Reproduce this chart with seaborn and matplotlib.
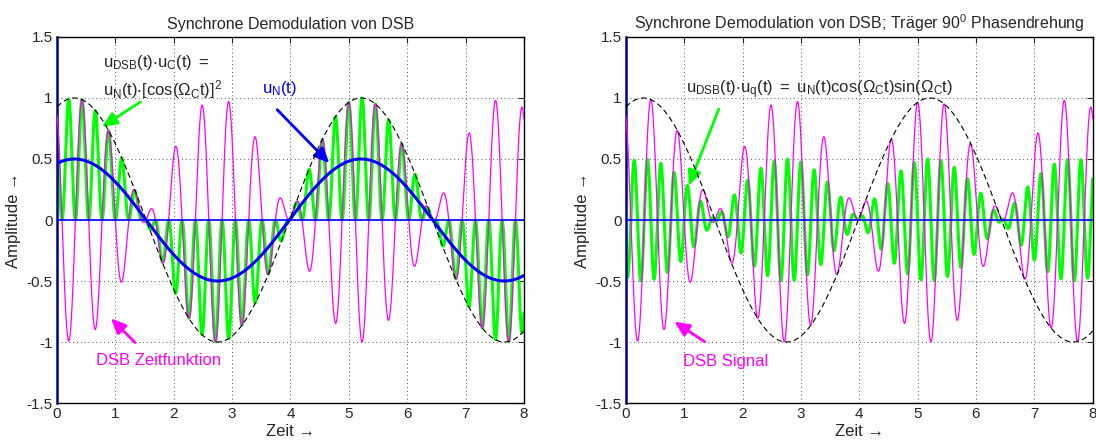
import numpy as np
import pandas as pd
import matplotlib
matplotlib.use("Agg")
import matplotlib.pyplot as plt
import seaborn as sns

# values
t_span = [0, 8]
msg_period = 4.91        # period of u_N(t) in s
msg_peak = 0.30          # first maximum of u_N(t)
carrier_period = 0.457   # period of the carrier in s
carrier_peak = -0.028    # a maximum of the carrier
lowpass_gain = 0.5       # amplitude of the demodulated u_N(t)
x_ticks = [0, 1, 2, 3, 4, 5, 6, 7, 8]
y_ticks = [-1.5, -1, -0.5, 0, 0.5, 1, 1.5]

sns.set_style("white")
plt.rcParams['font.family'] = ['Liberation Sans', 'DejaVu Sans']
plt.rcParams['mathtext.fontset'] = 'custom'
plt.rcParams['mathtext.rm'] = 'Liberation Sans'
plt.rcParams['mathtext.it'] = 'Liberation Sans'
plt.rcParams['xtick.direction'] = 'in'
plt.rcParams['ytick.direction'] = 'in'

t = np.linspace(t_span[0], t_span[1], 4001)
u_n = np.cos(2 * np.pi / msg_period * (t - msg_peak))
u_c = np.cos(2 * np.pi / carrier_period * (t - carrier_peak))
u_q = -np.sin(2 * np.pi / carrier_period * (t - carrier_peak))
dsb = u_n * u_c

df = pd.DataFrame({"t": t, "u_n": u_n, "dsb": dsb,
                   "demod_c": dsb * u_c, "demod_q": dsb * u_q,
                   "lowpass": lowpass_gain * u_n, "zero": 0 * t})

MAG = '#ff00ff'
GRN = '#00ff00'
BLU = '#0000ff'
ARW = '-|>,head_length=0.9,head_width=0.4'

fig = plt.figure(figsize=(10.96, 4.4), dpi=100)
ax1 = fig.add_axes([0.052, 0.084, 0.426, 0.832])
ax2 = fig.add_axes([0.571, 0.084, 0.426, 0.832])


def base(ax, title):
    ax.set_xlim(t_span)
    ax.set_ylim(-1.5, 1.5)
    ax.set_xticks(x_ticks)
    ax.set_yticks(y_ticks)
    ax.set_xticklabels([str(v) for v in x_ticks])
    ax.set_yticklabels(['-1.5', '-1', '-0.5', '0', '0.5', '1', '1.5'])
    ax.tick_params(labelsize=11, length=4, top=True, right=True, pad=3)
    ax.grid(True, linestyle=(0, (1, 3)), color='#555555', linewidth=0.7)
    for s in ax.spines.values():
        s.set_color('black')
        s.set_linewidth(1.0)
    ax.spines['left'].set_color('#00008b')
    ax.spines['left'].set_linewidth(1.8)
    ax.set_title(title, fontsize=11.5, pad=6)
    ax.set_xlabel('Zeit →', fontsize=12, labelpad=2)
    ax.set_ylabel('Amplitude →', fontsize=12, labelpad=4)


# left: synchronous demodulation
sns.lineplot(data=df, x="t", y="demod_c", ax=ax1, color=GRN, lw=2.2, estimator=None, zorder=2)
sns.lineplot(data=df, x="t", y="dsb", ax=ax1, color=MAG, lw=0.9, estimator=None, zorder=3)
sns.lineplot(data=df, x="t", y="u_n", ax=ax1, color='black', lw=0.8, linestyle=(0, (5, 3)), estimator=None, zorder=4)
sns.lineplot(data=df, x="t", y="lowpass", ax=ax1, color=BLU, lw=2.2, estimator=None, zorder=5)
sns.lineplot(data=df, x="t", y="zero", ax=ax1, color=BLU, lw=1.2, estimator=None, zorder=5)
base(ax1, 'Synchrone Demodulation von DSB')

ax1.text(0.78, 1.29, r'$\mathregular{u_{DSB}(t){\cdot}u_C(t)\ =}$', fontsize=12, va='center', ha='left')
ax1.text(0.78, 1.07, r'$\mathregular{u_N(t){\cdot}[cos(Ω_Ct)]^2}$', fontsize=12, va='center', ha='left')
ax1.annotate('', xy=(0.73, 0.75), xytext=(1.47, 0.98),
             arrowprops=dict(arrowstyle=ARW, color=GRN, lw=2))
ax1.text(3.52, 1.08, r'$\mathregular{u_N(t)}$', fontsize=12, color=BLU, va='center', ha='left')
ax1.annotate('', xy=(4.7, 0.45), xytext=(3.74, 0.92),
             arrowprops=dict(arrowstyle=ARW, color=BLU, lw=2))
ax1.text(1.74, -1.155, 'DSB Zeitfunktion', fontsize=12, color=MAG, va='center', ha='center')
ax1.annotate('', xy=(0.89, -0.79), xytext=(1.37, -1.02),
             arrowprops=dict(arrowstyle=ARW, color=MAG, lw=2))

# right: carrier shifted by 90 degrees
sns.lineplot(data=df, x="t", y="demod_q", ax=ax2, color=GRN, lw=2.2, estimator=None, zorder=2)
sns.lineplot(data=df, x="t", y="dsb", ax=ax2, color=MAG, lw=0.9, estimator=None, zorder=3)
sns.lineplot(data=df, x="t", y="u_n", ax=ax2, color='black', lw=0.8, linestyle=(0, (5, 3)), estimator=None, zorder=4)
sns.lineplot(data=df, x="t", y="zero", ax=ax2, color=BLU, lw=1.2, estimator=None, zorder=5)
base(ax2, 'Synchrone Demodulation von DSB; Träger 90$^0$ Phasendrehung')

ax2.text(1.03, 1.07, r'$\mathregular{u_{DSB}(t){\cdot}u_q(t)\ =\ u_N(t)cos(Ω_Ct)sin(Ω_Ct)}$',
         fontsize=12, va='center', ha='left')
ax2.annotate('', xy=(1.06, 0.26), xytext=(1.61, 0.93),
             arrowprops=dict(arrowstyle=ARW, color=GRN, lw=2))
ax2.text(1.71, -1.16, 'DSB Signal', fontsize=12, color=MAG, va='center', ha='center')
ax2.annotate('', xy=(0.79, -0.82), xytext=(1.39, -1.01),
             arrowprops=dict(arrowstyle=ARW, color=MAG, lw=2))

fig.savefig('out.png', dpi=100)
